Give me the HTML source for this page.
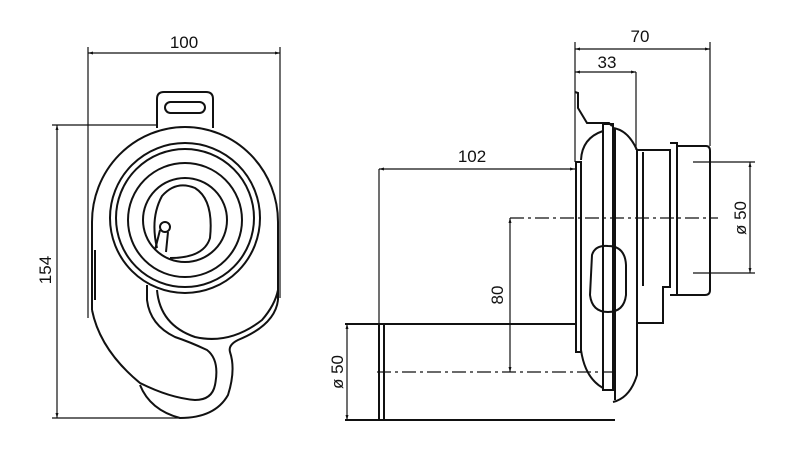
<!DOCTYPE html>
<html><head><style>body{margin:0;background:#fff}svg{display:block}</style></head><body>
<svg width="800" height="466" viewBox="0 0 800 466" xmlns="http://www.w3.org/2000/svg" font-family="Liberation Sans, sans-serif">
<defs><marker id="a" viewBox="0 0 10 10" refX="10" refY="5" markerWidth="10" markerHeight="5" orient="auto-start-reverse" markerUnits="userSpaceOnUse"><path d="M0,2 L10,5 L0,8z" fill="#111"/></marker></defs>
<g stroke="#111" fill="none" stroke-width="1.2">
<line x1="88" y1="53" x2="280" y2="53" marker-start="url(#a)" marker-end="url(#a)"/>
<line x1="88" y1="47" x2="88" y2="318"/>
<line x1="280" y1="47" x2="280" y2="298"/>
<line x1="57" y1="125" x2="57" y2="418" marker-start="url(#a)" marker-end="url(#a)"/>
<line x1="52" y1="125" x2="156" y2="125"/>
<line x1="52" y1="418" x2="180" y2="418"/>
</g>
<g stroke="#111" fill="none" stroke-width="2">
<path d="M157,128 L157,99 Q157,92 164,92 L206,92 Q213,92 213,99 L213,128"/>
<rect x="165" y="102" width="40" height="11" rx="5.5"/>
<path d="M92,310 L92,222 A93,95 0 0 1 278,222 L278,300"/>
<path d="M95,300 L95,250"/>
<circle cx="185" cy="218" r="75"/>
<circle cx="185" cy="218" r="69"/>
<circle cx="185" cy="220" r="57"/>
<circle cx="185" cy="220" r="42"/>
<path d="M157,248 Q150,218 162,196 Q176,180 195,188 Q214,200 210,238 Q204,258 170,258"/>
<circle cx="165" cy="227" r="5"/>
<path d="M160,230 L155,250 M168,232 L166,252"/>
<!-- lower -->
<path d="M157,290 Q160,325 195,337 Q230,345 262,320 Q275,305 278,290"/>
<path d="M92,310 Q100,350 140,383 Q170,398 195,400 Q212,400 215,385 Q220,360 207,350 Q190,342 175,337 Q150,325 147,300 L147,285"/>
<path d="M140,385 Q150,410 180,418 Q215,418 228,395 Q236,370 230,352 Q228,345 238,340 Q275,325 278,300"/>
<!-- RIGHT VIEW -->
<path d="M575,92 L578,93 L578,108 L587,123 L609,123 L612,126"/>
<rect x="576" y="162" width="5" height="190"/>
<path d="M581,160 Q582,138 603,131 M581,350 Q585,378 603,388"/>
<rect x="603" y="124" width="10" height="266"/>
<path d="M613,128 Q628,130 637,150 L637,375 Q630,398 613,402"/>
<path d="M615,128 L615,400"/>
<path d="M592,255 Q595,245 608,246 Q625,246 626,265 L626,295 Q624,312 608,312 Q592,312 590,295 Z"/>
<path d="M637,150 L670,150 L670,287 L663,287 L663,323 L637,323"/>
<line x1="643" y1="152" x2="643" y2="286"/>
<path d="M670,143 L677,143 L677,295 L670,295"/>
<path d="M677,146 L706,146 Q710,146 710,151 L710,290 Q710,295 705,295 L677,295"/>
<path d="M345,324 L576,324 M345,420 L615,420 M379,324 L379,420 M384,324 L384,420"/>
</g>
<g stroke="#111" fill="none" stroke-width="1.2">
<line x1="575" y1="42" x2="575" y2="162"/>
<line x1="636" y1="72" x2="636" y2="150"/>
<line x1="710" y1="42" x2="710" y2="146"/>
<line x1="575" y1="49" x2="710" y2="49" marker-start="url(#a)" marker-end="url(#a)"/>
<line x1="575" y1="72" x2="636" y2="72" marker-start="url(#a)" marker-end="url(#a)"/>
<line x1="379" y1="169" x2="575" y2="169" marker-start="url(#a)" marker-end="url(#a)"/>
<line x1="379" y1="169" x2="379" y2="324"/>
<line x1="693" y1="162" x2="755" y2="162"/>
<line x1="693" y1="273" x2="755" y2="273"/>
<line x1="750" y1="162" x2="750" y2="273" marker-start="url(#a)" marker-end="url(#a)"/>
<line x1="510" y1="218" x2="510" y2="372" marker-start="url(#a)" marker-end="url(#a)"/>
<line x1="347" y1="324" x2="347" y2="420" marker-start="url(#a)" marker-end="url(#a)"/>
<line x1="510" y1="218" x2="718" y2="218" stroke-dasharray="14,4,3,4"/>
<line x1="377" y1="372" x2="617" y2="372" stroke-dasharray="14,4,3,4"/>
</g>
<g fill="#111" font-size="17">
<text x="184" y="48" text-anchor="middle">100</text>
<text transform="translate(51,270) rotate(-90)" text-anchor="middle">154</text>
<text x="640" y="42" text-anchor="middle">70</text>
<text x="607" y="68" text-anchor="middle">33</text>
<text x="472" y="162" text-anchor="middle">102</text>
<text transform="translate(503,295) rotate(-90)" text-anchor="middle">80</text>
<text transform="translate(746,218) rotate(-90)" text-anchor="middle">ø 50</text>
<text transform="translate(343,372) rotate(-90)" text-anchor="middle">ø 50</text>
</g>
</svg>
</body></html>
